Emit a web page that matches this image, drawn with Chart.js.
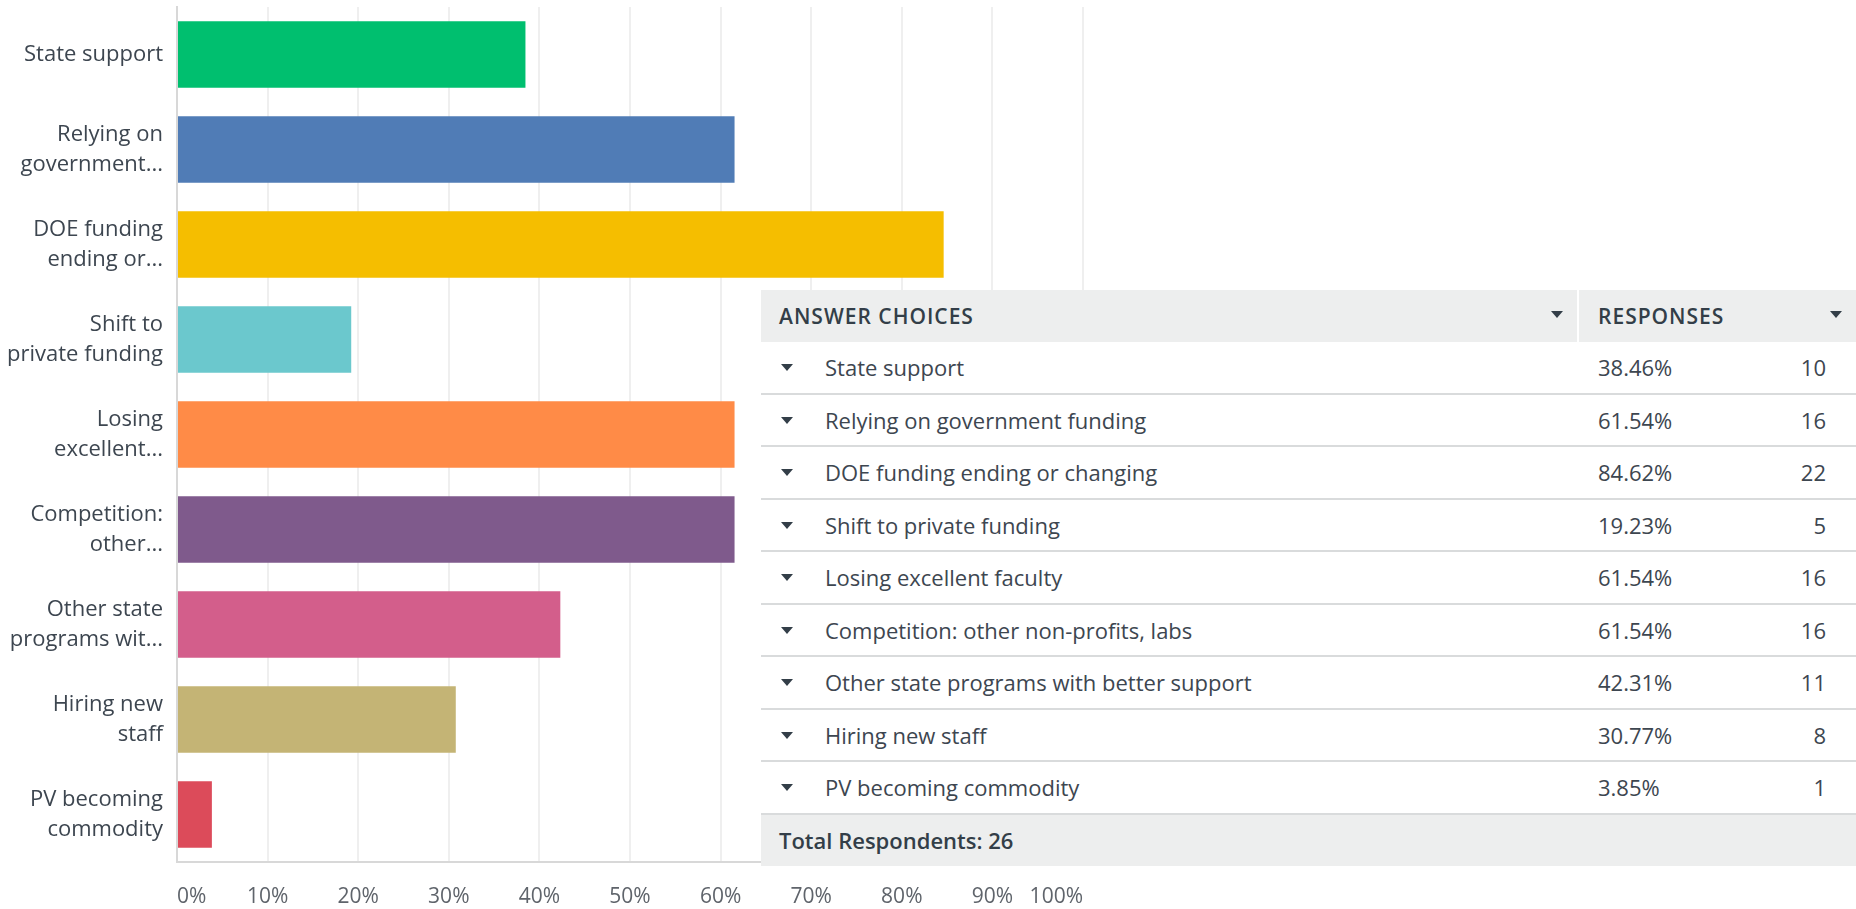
<!DOCTYPE html>
<html>
<head>
<meta charset="utf-8">
<script src="https://cdn.jsdelivr.net/npm/chart.js@4.4.1/dist/chart.umd.min.js"></script>
<style>
  html, body { margin: 0; padding: 0; background: #fff; }
  body { width: 1856px; height: 909px; position: relative; overflow: hidden; font-family: "Open Sans", sans-serif; }
  #chart-wrap { position: absolute; left: 0; top: 0; width: 1090px; height: 909px; }
  #tbl { position: absolute; left: 761px; top: 290px; width: 1095px; border-collapse: collapse; table-layout: fixed; background: #fff; }
  #tbl th, #tbl td { padding: 0; color: #3d4650; font-size: 22px; white-space: nowrap; }
  #tbl thead th { background: #edeeee; height: 52px; text-align: left; font-weight: 600; font-size: 21px; color: #333e48; position: relative; letter-spacing: 1px; }
  #tbl tbody td { height: 50.5px; border-bottom: 2px solid #d9dbdc; }
  #tbl .sep { border-left: 2px solid #fff; }
  #tbl .c1 { padding-left: 64px; position: relative; }
  #tbl .pc { padding-left: 19px; }
  #tbl .n { text-align: right; padding-right: 30px; }
  #tbl .hd1 { padding-left: 18px; }
  #tbl .hd2 { padding-left: 19px; }
  #tbl tfoot td { background: #edeeee; height: 51px; padding-left: 18px; font-weight: 600; color: #333e48; }
  .tri { display: inline-block; width: 0; height: 0; border-left: 6px solid transparent; border-right: 6px solid transparent; border-top: 7px solid #333e48; position: absolute; top: 50%; margin-top: -3px; }
  .c1 .tri { left: 20px; }
  th .tri { right: 14px; margin-top: -5px; }
</style>
</head>
<body>
<div id="chart-wrap"><canvas id="bars"></canvas></div>
<table id="tbl">
  <colgroup><col style="width:817px"><col style="width:128px"><col style="width:150px"></colgroup>
  <thead>
    <tr><th class="hd1">ANSWER CHOICES<span class="tri"></span></th><th class="hd2 sep" colspan="2">RESPONSES<span class="tri"></span></th></tr>
  </thead>
  <tbody id="rows"></tbody>
  <tfoot><tr><td colspan="3" id="total"></td></tr></tfoot>
</table>
<script>
// ── data ─────────────────────────────────────────────
const CHOICES = [
  'State support',
  'Relying on government funding',
  'DOE funding ending or changing',
  'Shift to private funding',
  'Losing excellent faculty',
  'Competition: other non-profits, labs',
  'Other state programs with better support',
  'Hiring new staff',
  'PV becoming commodity',
];
const AXIS_LABELS = [
  ['State support'],
  ['Relying on', 'government...'],
  ['DOE funding', 'ending or...'],
  ['Shift to', 'private funding'],
  ['Losing', 'excellent...'],
  ['Competition:', 'other...'],
  ['Other state', 'programs wit...'],
  ['Hiring new', 'staff'],
  ['PV becoming', 'commodity'],
];
const PERCENTS = [38.46, 61.54, 84.62, 19.23, 61.54, 61.54, 42.31, 30.77, 3.85];
const COUNTS = [10, 16, 22, 5, 16, 16, 11, 8, 1];
const TOTAL_RESPONDENTS = 26;
const X_TICKS = [0, 10, 20, 30, 40, 50, 60, 70, 80, 90, 100];

const PALETTE = ['#00bf6f', '#507cb6', '#f5be00', '#6bc8cd', '#ff8b47', '#7f5a8c', '#d35e8b', '#c4b475', '#dc4b5a'];

// ── table ────────────────────────────────────────────
const tbody = document.getElementById('rows');
tbody.innerHTML = CHOICES.map((c, i) => `<tr>
  <td class="c1"><span class="tri"></span>${c}</td>
  <td class="pc sep">${PERCENTS[i].toFixed(2)}%</td>
  <td class="n">${COUNTS[i]}</td>
</tr>`).join('');
document.getElementById('total').textContent = 'Total Respondents: ' + TOTAL_RESPONDENTS;

// ── chart ────────────────────────────────────────────
const noPad = s => { s.paddingTop = 0; s.paddingBottom = 0; s.paddingLeft = 0; s.paddingRight = 0; };

new Chart(document.getElementById('bars'), {
  type: 'bar',
  data: {
    labels: AXIS_LABELS,
    datasets: [{
      data: PERCENTS,
      backgroundColor: PALETTE,
      borderWidth: 0,
      barPercentage: 0.7,
      categoryPercentage: 1,
    }],
  },
  options: {
    indexAxis: 'y',
    responsive: true,
    maintainAspectRatio: false,
    animation: false,
    layout: { padding: { top: 7, right: 7, left: 0, bottom: 0 } },
    plugins: { legend: { display: false }, tooltip: { enabled: false } },
    scales: {
      x: {
        min: 0,
        max: 100,
        afterBuildTicks: s => { s.ticks = X_TICKS.map(v => ({ value: v })); },
        afterFit: s => { s.height = 47; noPad(s); },
        grid: { color: '#efefef', lineWidth: 2, drawTicks: false },
        border: { display: true, color: '#d8d8d8', width: 2 },
        ticks: {
          align: 'inner',
          padding: 22,
          color: '#5f646b',
          font: { family: '"Open Sans", sans-serif', size: 21 },
          callback: v => v + '%',
        },
      },
      y: {
        afterFit: s => { s.width = 177; noPad(s); },
        grid: { display: false, drawTicks: false },
        border: { display: true, color: '#d8d8d8', width: 2 },
        ticks: { padding: 14, color: '#3d4650', font: { family: '"Open Sans", sans-serif', size: 22, lineHeight: 1.35 } },
      },
    },
  },
});
</script>
</body>
</html>
